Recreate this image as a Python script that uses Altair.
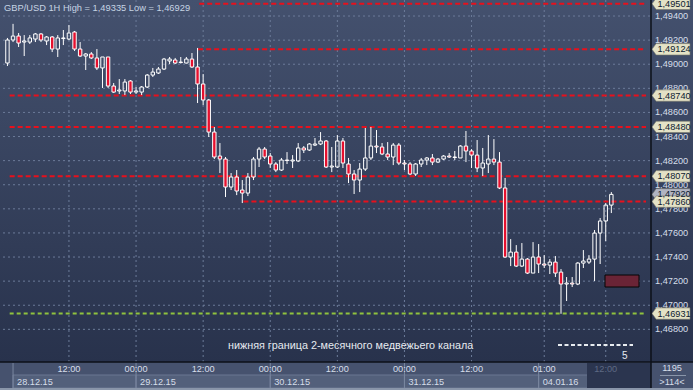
import altair as alt
import pandas as pd

title_text = "GBP/USD 1H High = 1,49335 Low = 1,46929"
note_text = "нижняя граница 2-месячного медвежьего канала"

# hourly bars, 28.12.15 01:00 ... 04.01.16 13:00 (bar index)
opens = [1.49010, 1.49201, 1.49234, 1.49184, 1.49184, 1.49209, 1.49251, 1.49193, 1.49226, 1.49126,
         1.49213, 1.49209, 1.49267, 1.49126, 1.49068, 1.49085, 1.49052, 1.48969, 1.49060, 1.48819,
         1.48778, 1.48778, 1.48861, 1.48769, 1.48769, 1.48811, 1.48910, 1.48927, 1.48960, 1.49027,
         1.49035, 1.49018, 1.49010, 1.49043, 1.48977, 1.48836, 1.48703, 1.48437, 1.48238, 1.48213,
         1.47981, 1.48064, 1.47956, 1.47931, 1.48064, 1.48213, 1.48296, 1.48238, 1.48172, 1.48122,
         1.48205, 1.48197, 1.48197, 1.48305, 1.48288, 1.48329, 1.48338, 1.48363, 1.48147, 1.48147,
         1.48363, 1.48172, 1.48089, 1.48039, 1.48130, 1.48222, 1.48321, 1.48313, 1.48255, 1.48230,
         1.48329, 1.48180, 1.48172, 1.48089, 1.48172, 1.48205, 1.48222, 1.48188, 1.48213, 1.48238,
         1.48230, 1.48222, 1.48321, 1.48280, 1.48246, 1.48139, 1.48172, 1.48213, 1.48188, 1.47973,
         1.47400, 1.47441, 1.47325, 1.47383, 1.47267, 1.47400, 1.47342, 1.47333, 1.47358, 1.47275,
         1.47176, 1.47184, 1.47176, 1.47350, 1.47358, 1.47383, 1.47599, 1.47699, 1.47831]
highs = [1.49218, 1.49335, 1.49259, 1.49242, 1.49242, 1.49259, 1.49259, 1.49234, 1.49234, 1.49242,
         1.49284, 1.49325, 1.49276, 1.49184, 1.49093, 1.49101, 1.49126, 1.49060, 1.49060, 1.48844,
         1.48877, 1.48877, 1.48869, 1.48811, 1.48819, 1.48919, 1.48969, 1.48977, 1.49052, 1.49060,
         1.49052, 1.49060, 1.49060, 1.49093, 1.49135, 1.48919, 1.48711, 1.48479, 1.48346, 1.48230,
         1.48097, 1.48122, 1.48039, 1.48097, 1.48230, 1.48313, 1.48313, 1.48263, 1.48188, 1.48222,
         1.48271, 1.48246, 1.48346, 1.48321, 1.48346, 1.48388, 1.48437, 1.48371, 1.48313, 1.48412,
         1.48388, 1.48222, 1.48122, 1.48180, 1.48471, 1.48479, 1.48454, 1.48346, 1.48354, 1.48346,
         1.48346, 1.48205, 1.48188, 1.48180, 1.48222, 1.48230, 1.48255, 1.48222, 1.48246, 1.48263,
         1.48280, 1.48329, 1.48446, 1.48296, 1.48371, 1.48305, 1.48412, 1.48379, 1.48271, 1.48056,
         1.47549, 1.47499, 1.47516, 1.47392, 1.47524, 1.47508, 1.47416, 1.47383, 1.47408, 1.47300,
         1.47234, 1.47234, 1.47358, 1.47458, 1.47416, 1.47624, 1.47724, 1.47848, 1.47939]
lows = [1.48985, 1.49184, 1.49143, 1.49068, 1.49168, 1.49184, 1.49184, 1.49159, 1.49101, 1.49060,
        1.49159, 1.49201, 1.49110, 1.49060, 1.48952, 1.49043, 1.48952, 1.48803, 1.48803, 1.48761,
        1.48753, 1.48744, 1.48753, 1.48753, 1.48744, 1.48803, 1.48894, 1.48919, 1.48952, 1.49002,
        1.49002, 1.49006, 1.49006, 1.48969, 1.48678, 1.48661, 1.48396, 1.48213, 1.48097, 1.47898,
        1.47956, 1.47914, 1.47848, 1.47906, 1.48039, 1.48147, 1.48213, 1.48139, 1.48105, 1.48114,
        1.48172, 1.48139, 1.48188, 1.48263, 1.48280, 1.48321, 1.48329, 1.48139, 1.48105, 1.48139,
        1.48139, 1.48014, 1.47923, 1.47939, 1.48114, 1.48205, 1.48263, 1.48246, 1.48205, 1.48163,
        1.48163, 1.48122, 1.48080, 1.48072, 1.48147, 1.48163, 1.48163, 1.48180, 1.48205, 1.48222,
        1.48205, 1.48222, 1.48188, 1.48139, 1.48105, 1.48072, 1.48097, 1.48163, 1.47964, 1.47392,
        1.47325, 1.47317, 1.47317, 1.47259, 1.47267, 1.47267, 1.47309, 1.47259, 1.47234, 1.46929,
        1.47035, 1.47151, 1.47167, 1.47309, 1.47342, 1.47201, 1.47342, 1.47533, 1.47765]
closes = [1.49201, 1.49234, 1.49176, 1.49193, 1.49218, 1.49251, 1.49201, 1.49226, 1.49126, 1.49218,
          1.49218, 1.49259, 1.49126, 1.49068, 1.49085, 1.49052, 1.48969, 1.49060, 1.48819, 1.48769,
          1.48786, 1.48852, 1.48769, 1.48778, 1.48811, 1.48910, 1.48935, 1.48960, 1.49043, 1.49043,
          1.49010, 1.49014, 1.49043, 1.48977, 1.48836, 1.48703, 1.48437, 1.48230, 1.48213, 1.47981,
          1.48064, 1.47948, 1.47931, 1.48064, 1.48213, 1.48296, 1.48230, 1.48172, 1.48122, 1.48205,
          1.48201, 1.48205, 1.48305, 1.48288, 1.48338, 1.48338, 1.48363, 1.48147, 1.48155, 1.48363,
          1.48180, 1.48089, 1.48039, 1.48130, 1.48222, 1.48321, 1.48313, 1.48255, 1.48230, 1.48329,
          1.48180, 1.48172, 1.48089, 1.48172, 1.48205, 1.48222, 1.48188, 1.48213, 1.48238, 1.48230,
          1.48226, 1.48321, 1.48280, 1.48246, 1.48139, 1.48180, 1.48213, 1.48188, 1.47973, 1.47400,
          1.47441, 1.47325, 1.47383, 1.47267, 1.47400, 1.47342, 1.47333, 1.47358, 1.47267, 1.47176,
          1.47184, 1.47176, 1.47350, 1.47367, 1.47383, 1.47599, 1.47699, 1.47831, 1.47920]
bar_index = list(range(len(opens)))

red_levels = [1.49501, 1.49124, 1.48740, 1.48480, 1.48070, 1.47860]
red_level_start = [34.3, 34.1, 0.4, 0.4, 0.4, 42.2]
green_level = [1.46931]

marker_prices = [1.49501, 1.49124, 1.48740, 1.48480, 1.48070, 1.47920, 1.47860, 1.46931]
marker_labels = ["1,49501", "1,49124", "1,48740", "1,48480", "1,48070", "1,47920", "1,47860", "1,46931"]
marker_fills = ["#e4e2c6", "#e4e2c6", "#e4e2c6", "#e4e2c6", "#e4e2c6", "#b0b4c2", "#e4e2c6", "#e4e2c6"]

y_tick_values = [1.468, 1.470, 1.472, 1.474, 1.476, 1.478, 1.480, 1.482, 1.484, 1.486, 1.488, 1.490, 1.492, 1.494]
y_tick_labels = ["1,46800", "1,47000", "1,47200", "1,47400", "1,47600", "1,47800", "1,48000",
                 "1,48200", "1,48400", "1,48600", "1,48800", "1,49000", "1,49200", "1,49400"]

x_tick_index = [11, 23, 35, 47, 59, 71, 83, 96, 107]
x_tick_labels = ["12:00", "00:00", "12:00", "00:00", "12:00", "00:00", "12:00", "01:00", "12:00"]
day_start = [1.0, 23, 47, 71, 95]
day_end = [23, 47, 71, 95, 114.2]
day_labels = ["28.12.15", "29.12.15", "30.12.15", "31.12.15", "04.01.16"]

X_MAX = 114.2
xs = alt.Scale(domain=[0.1, X_MAX], nice=False, zero=False)
ys = alt.Scale(domain=[1.46529, 1.49533], nice=False, zero=False)
FONT = "Liberation Sans"
TXT = "#d6deea"

df = pd.DataFrame({"i": bar_index, "open": opens, "high": highs, "low": lows, "close": closes})
df["dir"] = ["up" if c >= o else "down" for o, c in zip(opens, closes)]
df["top"] = df[["open", "close"]].max(axis=1)
df["bot"] = df[["open", "close"]].min(axis=1)

one = pd.DataFrame({"k": [0]})

def X(f):
    return alt.X(f, scale=xs, axis=None)

def Y(f):
    return alt.Y(f, scale=ys, axis=None)

grad = alt.LinearGradient(gradient="linear", x1=0, x2=0, y1=0, y2=1,
                          stops=[alt.GradientStop(color="#44516e", offset=0),
                                 alt.GradientStop(color="#28324c", offset=1)])
bg = alt.Chart(one).mark_rect(fill=grad).encode(
    x=alt.value(-3), x2=alt.value(690), y=alt.value(0), y2=alt.value(362))

ygrid = alt.Chart(pd.DataFrame({"p": y_tick_values})).mark_rule(
    color="#6c7b99", strokeDash=[2, 3], strokeWidth=1).encode(
    y=Y("p:Q"), x=alt.value(0), x2=alt.value(648))
xgrid = alt.Chart(pd.DataFrame({"i": x_tick_index})).mark_rule(
    color="#6c7b99", strokeDash=[2, 3], strokeWidth=1).encode(
    x=X("i:Q"), y=alt.value(0), y2=alt.value(362))

red = alt.Chart(pd.DataFrame({"p": red_levels, "s": red_level_start, "e": [X_MAX] * len(red_levels)})).mark_rule(
    color="#e8101c", strokeWidth=2, strokeDash=[5, 3], clip=True).encode(
    x=X("s:Q"), x2="e:Q", y=Y("p:Q"))
green = alt.Chart(pd.DataFrame({"p": green_level, "s": [0.4], "e": [X_MAX]})).mark_rule(
    color="#8fc23e", strokeWidth=2, strokeDash=[4, 3], clip=True).encode(
    x=X("s:Q"), x2="e:Q", y=Y("p:Q"))

wick_hi = alt.Chart(df).mark_rule(color="white", strokeWidth=1, clip=True).encode(
    x=X("i:Q"), y=Y("high:Q"), y2="top:Q")
wick_lo = alt.Chart(df).mark_rule(color="white", strokeWidth=1, clip=True).encode(
    x=X("i:Q"), y=Y("bot:Q"), y2="low:Q")
body = alt.Chart(df).mark_bar(width=3.4, stroke="white", strokeWidth=1, clip=True).encode(
    x=X("i:Q"), y=Y("top:Q"), y2="bot:Q",
    fill=alt.condition(alt.datum.dir == "down", alt.value("#e6102e"), alt.value("transparent")))

# box on the chart
box = alt.Chart(one).mark_rect(fill="#6a2436", stroke="#050505", strokeWidth=1).encode(
    x=alt.value(602), x2=alt.value(636), y=alt.value(275), y2=alt.value(287))

# y labels and price markers (right column)
ylab = alt.Chart(pd.DataFrame({"p": y_tick_values, "t": y_tick_labels})).mark_text(
    align="left", baseline="middle", font=FONT, fontSize=9.2, color=TXT).encode(
    x=alt.value(652), y=Y("p:Q"), text="t:N")
mpath = "M -1 0 L -0.78 -0.3 L 1 -0.3 L 1 0.3 L -0.78 0.3 Z"
mk = pd.DataFrame({"p": marker_prices, "t": marker_labels, "f": marker_fills})
markers = alt.Chart(mk).mark_point(shape=mpath, size=1444, filled=True, opacity=1,
                                   stroke="#77776a", strokeWidth=0.6).encode(
    x=alt.value(668), y=Y("p:Q"), fill=alt.Fill("f:N", scale=None))
mtext = alt.Chart(mk).mark_text(align="center", baseline="middle", font=FONT, fontSize=9.2,
                                color="#0c1a30").encode(
    x=alt.value(671), y=Y("p:Q"), text="t:N")

title = alt.Chart(one).mark_text(align="left", baseline="middle", font=FONT, fontSize=9.3,
                                 color="#c6d4e4", text=title_text).encode(
    x=alt.value(1), y=alt.value(8))
note = alt.Chart(one).mark_text(align="left", baseline="middle", font=FONT, fontSize=10.8,
                                color="#e6eaf0", text=note_text).encode(
    x=alt.value(225), y=alt.value(346))
legend_line = alt.Chart(one).mark_rule(color="#e8ecf0", strokeWidth=2, strokeDash=[4, 2.5]).encode(
    x=alt.value(555), x2=alt.value(630), y=alt.value(345))
five = alt.Chart(one).mark_text(align="left", baseline="middle", font=FONT, fontSize=10,
                                color="#e6eaf0", text="5").encode(
    x=alt.value(619), y=alt.value(356))

# bottom strip
strip = alt.Chart(one).mark_rect(fill="#46526e").encode(
    x=alt.value(-3), x2=alt.value(690), y=alt.value(362), y2=alt.value(390))
dd = pd.DataFrame({"s": day_start, "e": day_end, "t": day_labels})
dayboxes = alt.Chart(dd).mark_rect(fill="#53607b", stroke="#6a7792", strokeWidth=1, clip=False).encode(
    x=X("s:Q"), x2="e:Q", y=alt.value(375), y2=alt.value(388))
current = alt.Chart(one).mark_rect(fill="#2b354f").encode(
    x=alt.value(584), x2=alt.value(648), y=alt.value(363), y2=alt.value(388))
seps = alt.Chart(dd).mark_rule(color="#7a87a0", strokeWidth=1).encode(
    x=X("s:Q"), y=alt.value(363), y2=alt.value(388))
daytext = alt.Chart(dd).mark_text(align="left", baseline="middle", font=FONT, fontSize=9.2,
                                  color=TXT, dx=4).encode(
    x=X("s:Q"), y=alt.value(381.5), text="t:N")
xl = pd.DataFrame({"i": x_tick_index, "t": x_tick_labels})
timetext = alt.Chart(xl).mark_text(align="center", baseline="middle", font=FONT, fontSize=9.2).encode(
    x=X("i:Q"), y=alt.value(369), text="t:N",
    color=alt.condition(alt.datum.i > 100, alt.value("#5e6a84"), alt.value(TXT)))
hline = alt.Chart(one).mark_rule(color="#0c1018", strokeWidth=1.5).encode(
    x=alt.value(-3), x2=alt.value(690), y=alt.value(362), y2=alt.value(362))
vline = alt.Chart(one).mark_rule(color="#0c1018", strokeWidth=1.5).encode(
    x=alt.value(648), y=alt.value(0), y2=alt.value(388))
bottom_border = alt.Chart(one).mark_rect(fill="#8a96aa").encode(
    x=alt.value(-3), x2=alt.value(690), y=alt.value(388), y2=alt.value(390))
corner1 = alt.Chart(one).mark_text(align="center", baseline="middle", font=FONT, fontSize=9.2,
                                   color=TXT, text="1195").encode(x=alt.value(669), y=alt.value(368))
corner_line = alt.Chart(one).mark_rule(color="#8a96aa", strokeWidth=1).encode(
    x=alt.value(657), x2=alt.value(683), y=alt.value(375.5), y2=alt.value(375.5))
corner2 = alt.Chart(one).mark_text(align="center", baseline="middle", font=FONT, fontSize=9.2,
                                   color=TXT, text=">114<").encode(x=alt.value(669), y=alt.value(382))

chart = alt.layer(
    bg, ygrid, xgrid, red, green, wick_hi, wick_lo, body, box,
    ylab, markers, mtext, title, note, legend_line, five,
    strip, dayboxes, current, seps, daytext, timetext, hline, vline, bottom_border,
    corner1, corner_line, corner2,
).properties(
    width=648, height=362, autosize="none",
    padding={"left": 3, "top": 0, "right": 42, "bottom": 28},
    background="#46526e",
).configure_view(stroke=None)

chart.save("out.html", embed_options={"renderer": "svg", "actions": False})
